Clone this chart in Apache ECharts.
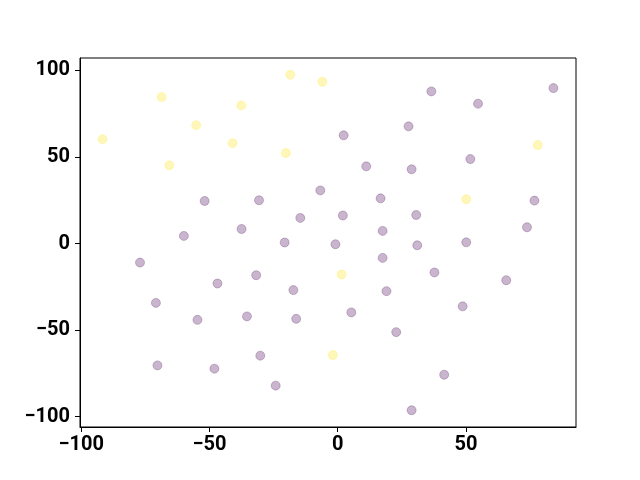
<!DOCTYPE html>
<html>
<head>
<meta charset="utf-8">
<script src="https://cdn.jsdelivr.net/npm/echarts@6/dist/echarts.min.js"></script>
<style>html,body{margin:0;padding:0;background:#fff}#c{width:640px;height:480px}</style>
</head>
<body>
<div id="c"></div>
<script>
const xTicks = [-100, -50, 0, 50];
const yTicks = [-100, -50, 0, 50, 100];

const purpleX = [-51.9,-30.7,-6.8,-14.6,-37.5,-60.0,-20.7,36.5,84.1,54.7,27.6,2.3,11.1,28.8,51.7,16.7,76.7,2.0,30.6,17.5,73.8,-0.9,31.0,50.1,17.5,37.7,65.7,19.0,5.3,48.7,22.8,41.5,28.8,-77.1,-46.9,-31.8,-17.3,-70.9,-54.7,-35.4,-16.2,-70.3,-48.1,-30.2,-24.2];
const purpleY = [24.6,25.0,30.7,14.8,8.4,4.4,0.6,87.9,89.8,80.8,67.7,62.5,44.6,42.9,48.8,26.1,24.8,16.2,16.5,7.3,9.4,-0.4,-1.0,0.7,-8.3,-16.7,-21.2,-27.5,-39.8,-36.3,-51.2,-75.8,-96.3,-11.0,-23.1,-18.3,-26.9,-34.3,-44.1,-42.1,-43.5,-70.4,-72.3,-64.8,-82.1];

const yellowX = [-18.5,-6.0,-68.7,-37.6,-55.2,-91.7,-41.0,-20.2,-65.7,78.0,50.1,1.5,-1.9];
const yellowY = [97.5,93.5,84.6,79.8,68.4,60.3,58.0,52.3,45.2,56.9,25.6,-17.9,-64.4];

const pair = (xs, ys) => xs.map((x, i) => [x, ys[i]]);
const fmt = v => (v < 0 ? '\u2212' + Math.abs(v) : String(v));

const chart = echarts.init(document.getElementById('c'), null, {renderer: 'canvas'});
const axisCommon = {
  type: 'value',
  splitLine: {show: false},
  axisLine: {show: true, onZero: false, lineStyle: {color: '#000', width: 1}},
};
chart.setOption({
  animation: false,
  grid: {left: 80, right: 64, top: 58, bottom: 53, show: true, borderColor: '#000', borderWidth: 1, backgroundColor: 'transparent'},
  xAxis: Object.assign({}, axisCommon, {
    min: -100.5, max: 92.9,
    axisTick: {show: true, length: 5, lineStyle: {color: '#000'}, customValues: xTicks},
    axisLabel: {customValues: xTicks, formatter: fmt, color: '#000', fontFamily: 'Roboto', fontWeight: 'bold', fontSize: 20, margin: 8}
  }),
  yAxis: Object.assign({}, axisCommon, {
    min: -106.0, max: 107.2,
    axisTick: {show: true, length: 5, lineStyle: {color: '#000'}, customValues: yTicks},
    axisLabel: {customValues: yTicks, formatter: fmt, color: '#000', fontFamily: 'Roboto', fontWeight: 'bold', fontSize: 20, margin: 10}
  }),
  series: [
    {
      type: 'scatter', symbol: 'circle', symbolSize: 9,
      data: pair(purpleX, purpleY),
      itemStyle: {color: 'rgba(68,1,84,0.36)', borderColor: 'rgba(68,1,84,0.3)', borderWidth: 1}
    },
    {
      type: 'scatter', symbol: 'circle', symbolSize: 9,
      data: pair(yellowX, yellowY),
      itemStyle: {color: 'rgba(253,231,37,0.4)', borderColor: 'rgba(253,231,37,0.3)', borderWidth: 1}
    }
  ]
});
</script>
</body>
</html>
